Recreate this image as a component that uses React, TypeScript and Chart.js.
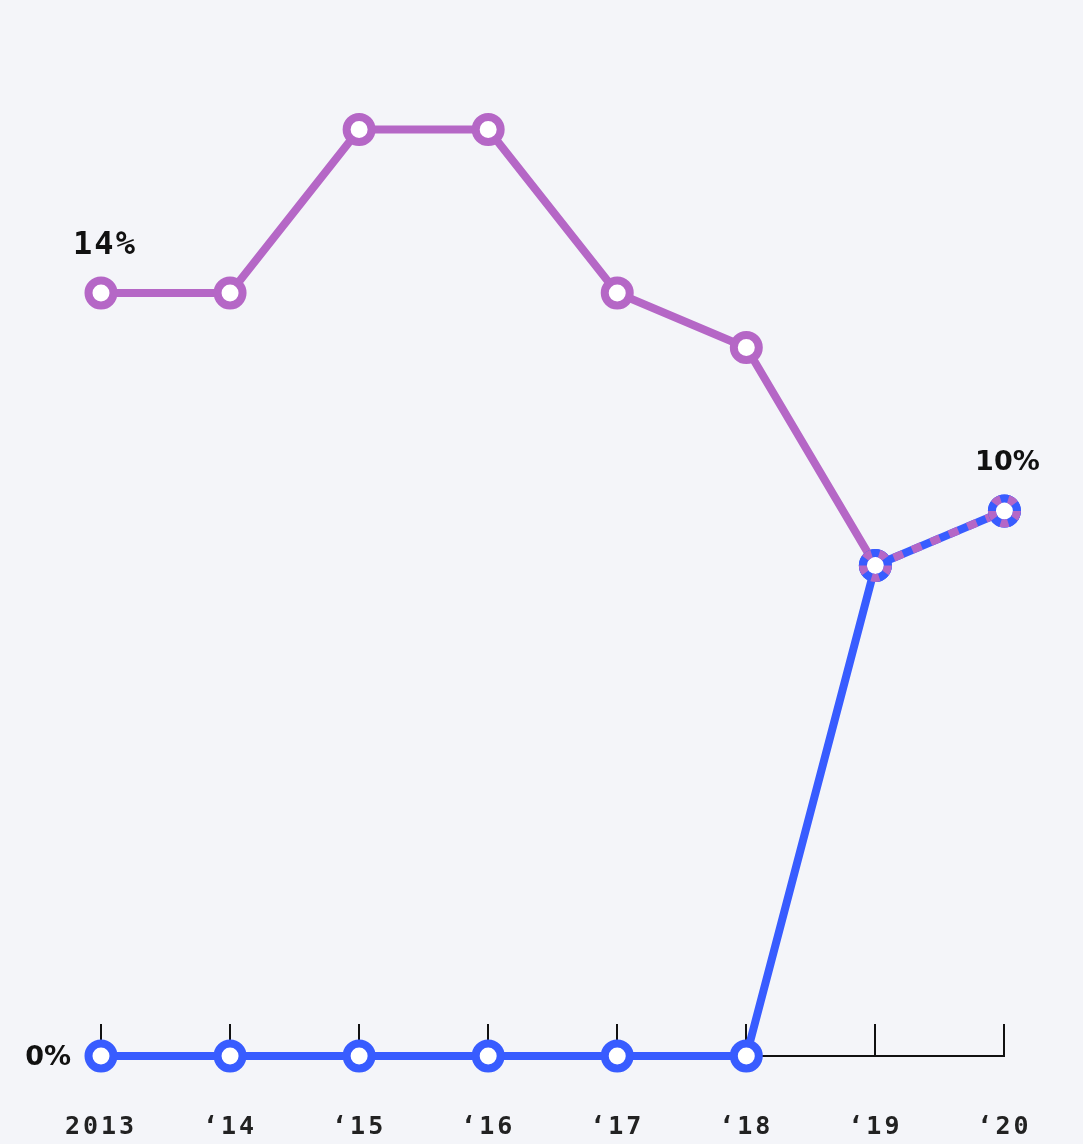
import React, { useEffect, useRef } from "react";
import { Chart, registerables } from "chart.js";

Chart.register(...registerables);

// ---- data ----
const categories = ["2013", "\u201814", "\u201815", "\u201816", "\u201817", "\u201818", "\u201819", "\u201820"];
const seriesPurple = [14, 14, 17, 17, 14, 13, 9, 10];
const seriesBlue = [0, 0, 0, 0, 0, 0, 9, 10];
const yMin = 0;
const yMax = 18;

// ---- styles ----
const PURPLE = "#b567c6";
const BLUE = "#385cff";
const BG = "#f4f5f9";
const R = 12.5;
const BW = 8;
const LW = 8;

const same = (i: number) => seriesPurple[i] === seriesBlue[i];

const tickMarksPlugin = {
  id: "tickMarks",
  beforeDatasetsDraw(chart: any) {
    const ctx = chart.ctx;
    const xs = chart.scales.x;
    const bottom = chart.chartArea.bottom;
    ctx.save();
    ctx.strokeStyle = "#111";
    ctx.lineWidth = 2;
    xs.ticks.forEach((_: any, i: number) => {
      const x = Math.round(xs.getPixelForTick(i));
      ctx.beginPath();
      ctx.moveTo(x, bottom);
      ctx.lineTo(x, bottom - 32);
      ctx.stroke();
    });
    ctx.restore();
  },
};

const spacingPlugin = {
  id: "spacing",
  beforeDraw(chart: any) {
    (chart.ctx as any).letterSpacing = "3px";
  },
  beforeDatasetsDraw(chart: any) {
    (chart.ctx as any).letterSpacing = "0px";
  },
};

const overlapPlugin = {
  id: "overlap",
  afterDatasetsDraw(chart: any) {
    const ctx = chart.ctx;
    const metaB = chart.getDatasetMeta(1);
    for (let i = 0; i < categories.length; i++) {
      if (!same(i)) continue;
      const pt = metaB.data[i];
      ctx.save();
      ctx.beginPath();
      ctx.arc(pt.x, pt.y, R, 0, Math.PI * 2);
      ctx.fillStyle = "#fff";
      ctx.fill();
      ctx.lineWidth = BW;
      ctx.strokeStyle = BLUE;
      ctx.stroke();
      ctx.setLineDash([7.8, 7.8]);
      ctx.strokeStyle = PURPLE;
      ctx.stroke();
      ctx.restore();
    }
  },
};

const labelPlugin = {
  id: "valueLabels",
  afterDatasetsDraw(chart: any) {
    const ctx = chart.ctx;
    const xs = chart.scales.x;
    const ys = chart.scales.y;
    const last = categories.length - 1;
    ctx.save();
    ctx.fillStyle = "#111";
    ctx.textBaseline = "middle";
    // first purple value, above point
    (ctx as any).letterSpacing = "2px";
    ctx.font = "bold 32px 'DejaVu Sans Mono'";
    ctx.textAlign = "center";
    ctx.fillText(`${seriesPurple[0]}%`, xs.getPixelForValue(0) + 4, ys.getPixelForValue(seriesPurple[0]) - 47);
    (ctx as any).letterSpacing = "0px";
    // first blue value, left of point
    ctx.font = "bold 27px 'DejaVu Sans'";
    ctx.textAlign = "right";
    ctx.fillText(`${seriesBlue[0]}%`, xs.getPixelForValue(0) - 30, ys.getPixelForValue(seriesBlue[0]) + 2);
    // last value, above point
    ctx.textAlign = "center";
    ctx.fillText(`${seriesPurple[last]}%`, xs.getPixelForValue(last) + 3, ys.getPixelForValue(seriesPurple[last]) - 48);
    ctx.restore();
  },
};

export default function App() {
  const ref = useRef<HTMLCanvasElement | null>(null);
  useEffect(() => {
    if (!ref.current) return;
    const chart = new Chart(ref.current, {
      type: "line",
      data: {
        labels: categories,
        datasets: [
          {
            label: "purple",
            data: seriesPurple,
            borderColor: PURPLE,
            borderWidth: LW,
            pointBackgroundColor: "#fff",
            pointBorderColor: PURPLE,
            pointBorderWidth: BW,
            pointRadius: (c: any) => (same(c.dataIndex) ? 0 : R),
            pointHoverRadius: R,
            tension: 0,
            clip: false as any,
            order: 0,
            segment: {
              borderDash: (c: any) => (same(c.p0DataIndex) && same(c.p1DataIndex) ? [10, 10] : undefined),
            },
          },
          {
            label: "blue",
            data: seriesBlue,
            borderColor: BLUE,
            borderWidth: LW,
            pointBackgroundColor: "#fff",
            pointBorderColor: BLUE,
            pointBorderWidth: BW,
            pointRadius: R,
            pointHoverRadius: R,
            tension: 0,
            clip: false as any,
            order: 1,
          },
        ],
      },
      options: {
        animation: false,
        responsive: true,
        maintainAspectRatio: false,
        layout: { padding: { left: 101, right: 78, top: 75, bottom: -54 } },
        plugins: { legend: { display: false }, tooltip: { enabled: false } },
        scales: {
          x: {
            offset: false,
            grid: { display: false, drawTicks: false },
            border: { display: true, color: "#111", width: 2 },
            ticks: {
              color: "#222",
              font: { family: "'DejaVu Sans Mono'", weight: "bold", size: 25 },
              padding: 56,
              maxRotation: 0,
              autoSkip: false,
            },
          },
          y: {
            display: false,
            min: yMin,
            max: yMax,
          },
        },
      },
      plugins: [spacingPlugin, tickMarksPlugin, overlapPlugin, labelPlugin],
    });
    return () => chart.destroy();
  }, []);
  return (
    <div style={{ position: "fixed", left: 0, top: 0, width: 1083, height: 1144, background: BG }}>
      <canvas ref={ref} />
    </div>
  );
}
